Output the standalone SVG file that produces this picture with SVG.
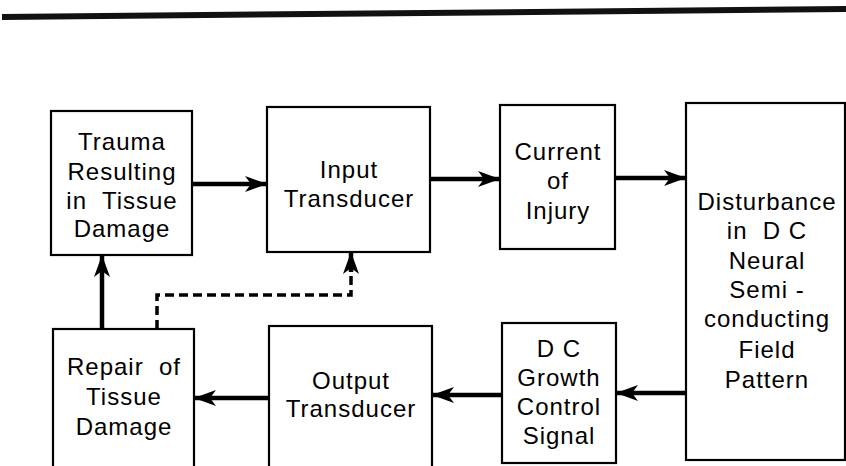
<svg xmlns="http://www.w3.org/2000/svg" width="846" height="466" viewBox="0 0 846 466">
<defs>
<marker id="ah" markerUnits="userSpaceOnUse" markerWidth="24" markerHeight="18" refX="21" refY="8" orient="auto">
<path d="M0,0 L22,8 L0,16 L6,8 Z" fill="#000"/>
</marker>
<style>
.box{fill:#fff;stroke:#000;stroke-width:2.2}
text{font-family:"Liberation Sans",Arial,sans-serif;font-size:24px;fill:#000;text-anchor:middle;letter-spacing:1px;white-space:pre}
.c{fill:none;stroke:#000;stroke-width:4.5}
.d{fill:none;stroke:#000;stroke-width:3.5;stroke-dasharray:9 5}
</style>
</defs>
<rect width="846" height="466" fill="#fff"/>
<line x1="2" y1="17" x2="846" y2="9" stroke="#111" stroke-width="6"/>
<g id="connectors">
<line class="c" x1="192" y1="184" x2="266" y2="184" marker-end="url(#ah)"/>
<line class="c" x1="430" y1="179" x2="499" y2="179" marker-end="url(#ah)"/>
<line class="c" x1="615" y1="178" x2="685" y2="178" marker-end="url(#ah)"/>
<line class="c" x1="686" y1="393" x2="617" y2="393" marker-end="url(#ah)"/>
<line class="c" x1="502" y1="395" x2="433" y2="395" marker-end="url(#ah)"/>
<line class="c" x1="269" y1="398" x2="195" y2="398" marker-end="url(#ah)"/>
<line class="c" x1="102" y1="329" x2="102" y2="256" marker-end="url(#ah)"/>
<polyline class="d" points="157,329 157,295 351,295 351,268"/>
<line class="c" x1="351" y1="272" x2="351" y2="253" marker-end="url(#ah)" stroke-width="3.5"/>
</g>
<g id="trauma">
<rect class="box" x="51" y="111" width="141" height="144"/>
<text x="122" y="150">Trauma</text>
<text x="122" y="180">Resulting</text>
<text x="122" y="209">in  Tissue</text>
<text x="122" y="237">Damage</text>
</g>
<g id="input">
<rect class="box" x="267" y="107" width="163" height="145"/>
<text x="349" y="178">Input</text>
<text x="349" y="207">Transducer</text>
</g>
<g id="current">
<rect class="box" x="500" y="105" width="115" height="144"/>
<text x="558" y="160">Current</text>
<text x="558" y="189">of</text>
<text x="558" y="219">Injury</text>
</g>
<g id="disturbance">
<rect class="box" x="686" y="103" width="159" height="357"/>
<text x="767" y="210">Disturbance</text>
<text x="767" y="239">in  D C</text>
<text x="767" y="269">Neural</text>
<text x="767" y="298">Semi -</text>
<text x="767" y="327">conducting</text>
<text x="767" y="358">Field</text>
<text x="767" y="388">Pattern</text>
</g>
<g id="dcgrowth">
<rect class="box" x="502" y="323" width="114" height="140"/>
<text x="559" y="357">D C</text>
<text x="559" y="386">Growth</text>
<text x="559" y="415">Control</text>
<text x="559" y="444">Signal</text>
</g>
<g id="output">
<rect class="box" x="269" y="326" width="163" height="150"/>
<text x="351" y="389">Output</text>
<text x="351" y="417">Transducer</text>
</g>
<g id="repair">
<rect class="box" x="53" y="329" width="141" height="150"/>
<text x="124" y="375">Repair  of</text>
<text x="124" y="405">Tissue</text>
<text x="124" y="435">Damage</text>
</g>
</svg>
